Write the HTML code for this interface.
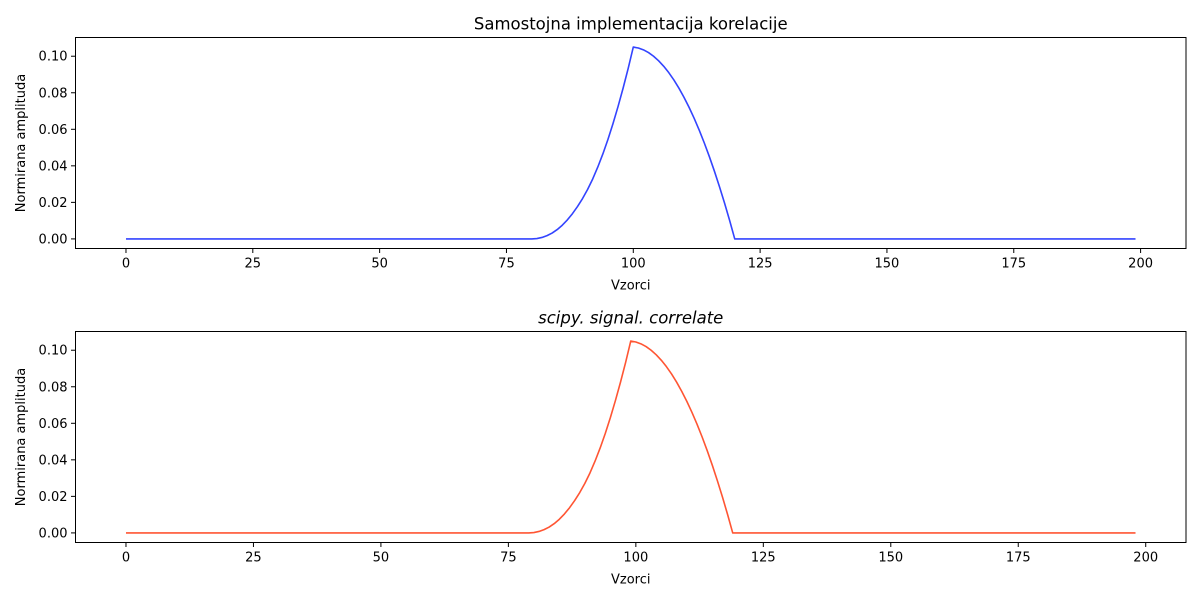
<!DOCTYPE html>
<html><head><meta charset="utf-8">
<style>
body{margin:0;background:#fff;}
svg{display:block;font-family:"DejaVu Sans","Liberation Sans",sans-serif;}
</style></head>
<body>
<svg id="fig" width="1200" height="600" viewBox="0 0 1200 600"></svg>
<script>
// Peak segment values (samples 80..120) for custom implementation
const peakTop = [0,0.0002,0.0008,0.0018,0.0032,0.0051,0.0075,0.0104,0.0138,0.0177,0.0221,0.0271,0.0328,0.0393,0.0465,0.0544,0.0631,0.0725,0.0826,0.0934,0.105,
0.1045,0.1035,0.1020,0.1000,0.0975,0.0945,0.0910,0.0870,0.0825,0.0775,0.0720,0.0660,0.0595,0.0525,0.0450,0.0370,0.0285,0.0195,0.0100,0];
const peakTopStart = 80;
const lenTop = 200;
// scipy.signal.correlate values (samples 79..119)
const peakBot = [0,0.0002,0.0008,0.0018,0.0032,0.0051,0.0075,0.0104,0.0138,0.0177,0.0221,0.0271,0.0328,0.0393,0.0465,0.0544,0.0631,0.0725,0.0826,0.0934,0.105,
0.1045,0.1035,0.1020,0.1000,0.0975,0.0945,0.0910,0.0870,0.0825,0.0775,0.0720,0.0660,0.0595,0.0525,0.0450,0.0370,0.0285,0.0195,0.0100,0];
const peakBotStart = 79;
const lenBot = 199;
const xTicks = [0,25,50,75,100,125,150,175,200];
const yTicks = [0,0.02,0.04,0.06,0.08,0.10];
const titles = ["Samostojna implementacija korelacije","scipy. signal. correlate"];

const NS="http://www.w3.org/2000/svg";
const svg=document.getElementById('fig');
function mk(tag,attrs,parent){const e=document.createElementNS(NS,tag);for(const k in attrs)e.setAttribute(k,attrs[k]);(parent||svg).appendChild(e);return e;}
function build(vals,start,len){const a=new Array(len).fill(0);vals.forEach((v,i)=>{if(start+i<len)a[start+i]=v;});return a;}

function panel(top,data,color,title,idx){
  const L=75.5,R=1186,T=top,B=top+211;
  const n=data.length-1;const xmin=-0.05*n,xmax=n*1.05;
  const ymax=Math.max(...data),ymin=-0.05*ymax,ymx=ymax*1.05;
  const X=v=>L+(v-xmin)/(xmax-xmin)*(R-L);
  const Y=v=>B-(v-ymin)/(ymx-ymin)*(B-T);
  const g=mk('g',{});
  
  
  let d='';data.forEach((v,i)=>{d+=(i?'L':'M')+X(i).toFixed(2)+','+Y(v).toFixed(2);});
  const p=mk('path',{d:d,fill:'none',stroke:color,'stroke-width':1.6,'stroke-linejoin':'round'},g);
  
  
  const fr=mk('rect',{x:L,y:T,width:R-L,height:B-T,fill:'none',stroke:'#000','stroke-width':1},g);
  
  
  xTicks.forEach(t=>{const x=X(t);mk('line',{x1:x,x2:x,y1:B,y2:B+4.5,stroke:'#000'},g);
    const tx=mk('text',{x:x,y:B+19,'font-size':13,'text-anchor':'middle'},g);tx.textContent=t;
    
    });
  yTicks.forEach(t=>{const y=Y(t);mk('line',{x1:L,x2:L-4.5,y1:y,y2:y,stroke:'#000'},g);
    const tx=mk('text',{x:L-8,y:y+4.5,'font-size':13,'text-anchor':'end'},g);tx.textContent=t.toFixed(2);
    
    });
  const xl=mk('text',{x:(L+R)/2,y:B+41,'font-size':13,'text-anchor':'middle'},g);xl.textContent='Vzorci';
  
  
  const yl=mk('text',{x:0,y:0,'font-size':13,'text-anchor':'middle',transform:`translate(25,${(T+B)/2}) rotate(-90)`},g);yl.textContent='Normirana amplituda';
  
  
  const tt=mk('text',{x:(L+R)/2,y:T-8,'font-size':16.5,'text-anchor':'middle','font-style':idx?'italic':'normal'},g);tt.textContent=title;
  
  
}
panel(37.5,build(peakTop,peakTopStart,lenTop),'#3344ff',titles[0],0);
panel(331.5,build(peakBot,peakBotStart,lenBot),'#ff5533',titles[1],1);
</script>
</body></html>
